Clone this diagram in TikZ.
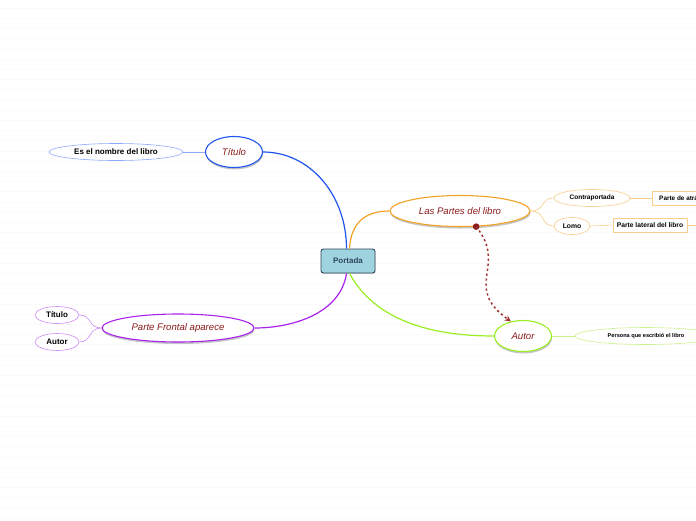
\documentclass[tikz,border=0pt]{standalone}
\usepackage{fontspec}
\setmainfont{Liberation Sans}
\usetikzlibrary{shapes.geometric, arrows.meta, shadows}
\definecolor{textred}{HTML}{8B1A1A}
\definecolor{rootfill}{HTML}{9FD3E0}
\definecolor{rootline}{HTML}{2F4858}
\definecolor{bluemain}{HTML}{2255EE}
\definecolor{bluelite}{HTML}{8FA8FF}
\definecolor{orangemain}{HTML}{F2A225}
\definecolor{orangelite}{HTML}{F9CD8C}
\definecolor{greenmain}{HTML}{99EE22}
\definecolor{greenlite}{HTML}{CFF28F}
\definecolor{purplemain}{HTML}{AA22EE}
\definecolor{purplelite}{HTML}{D08AF7}
\definecolor{ruled}{HTML}{FAFAFA}
\definecolor{relred}{HTML}{A03030}

\begin{document}
\begin{tikzpicture}[x=1pt, y=-1pt,
    root/.style={draw=rootline, fill=rootfill, rounded corners=2.5pt, line width=0.9pt,
                 minimum width=54pt, minimum height=24pt, inner sep=0pt,
                 font=\fontsize{8}{9}\selectfont\bfseries, text=rootline,
                 drop shadow={shadow xshift=0.5pt, shadow yshift=-1pt, opacity=0.25}},
    topic/.style={ellipse, draw, fill=white, line width=1.1pt, inner sep=0pt,
                  font=\fontsize{9.6}{11}\selectfont\itshape, text=textred,
                  drop shadow={shadow xshift=0.5pt, shadow yshift=-2pt, opacity=0.45}},
    leaf/.style={ellipse, draw, fill=white, line width=0.6pt, inner sep=0pt,
                 minimum height=17pt, font=\fontsize{8}{9}\selectfont\bfseries},
    note/.style={draw, fill=white, line width=0.8pt, inner sep=0pt, minimum height=14pt,
                 font=\fontsize{6.7}{8}\selectfont\bfseries},
    link/.style={line width=1.2pt},
    twig/.style={line width=0.6pt}]
    \clip (0,0) rectangle (696,520);
    \fill[white] (0,0) rectangle (696,520);
    \foreach \y in {8,18.2,...,520} \draw[ruled, line width=0.6pt] (0,\y) -- (696,\y);

    % central topic
    \node[root] (r) at (348,261) {Portada};

    % main topics
    \node[topic, draw=bluemain, minimum width=57pt, minimum height=31pt] (t) at (234,152) {Título};
    \node[topic, draw=orangemain, minimum width=140pt, minimum height=31pt] (p) at (460,211) {Las Partes del libro};
    \node[topic, draw=greenmain, minimum width=57pt, minimum height=31pt] (a) at (523,336) {Autor};
    \node[topic, draw=purplemain, minimum width=152pt, minimum height=28pt] (f) at (178,328) {Parte Frontal aparece};

    % subtopics
    \node[leaf, draw=bluelite, minimum width=134pt] (t1) at (116,152) {Es el nombre del libro};
    \node[leaf, draw=orangelite, minimum width=76pt, font=\fontsize{6.5}{8}\selectfont\bfseries] (p1) at (592,198) {Contraportada};
    \node[leaf, draw=orangelite, minimum width=36pt, font=\fontsize{6.8}{8}\selectfont\bfseries] (p2) at (572,226) {Lomo};
    \node[note, draw=orangelite, minimum width=74pt] (p3) at (650,225) {Parte lateral del libro};
    \node[note, draw=orangelite, minimum width=60pt, anchor=west, font=\fontsize{6.4}{8}\selectfont\bfseries] (p4) at (652,198) {\hspace*{2pt}Parte de atrás\hspace*{6pt}};
    \node[leaf, draw=greenlite, minimum width=142pt, font=\fontsize{5.6}{7}\selectfont\bfseries] (a1) at (646,336) {Persona que escribió el libro};
    \node[leaf, draw=purplelite, minimum width=44pt] (f1) at (57,315) {Título};
    \node[leaf, draw=purplelite, minimum width=44pt] (f2) at (57,342) {Autor};
    \coordinate (pe) at (700,225);

    % branches from the centre
    \draw[link, bluemain] ([xshift=-1.5pt]r.north) .. controls (346.5,195) and (310,152) .. (t.east);
    \draw[link, orangemain] ([xshift=1.5pt]r.north) .. controls (351,222) and (366,211) .. (p.west);
    \draw[link, purplemain] ([xshift=-1.5pt]r.south) .. controls (340,315) and (290,328) .. (f.east);
    \draw[link, greenmain] ([xshift=1.5pt]r.south) .. controls (375,320) and (430,336) .. (a.west);

    % twigs
    \draw[twig, bluelite] (t.west) -- (t1.east);
    \draw[twig, orangelite] (p.east) .. controls (546,211) and (540,198) .. (p1.west);
    \draw[twig, orangelite] (p.east) .. controls (546,211) and (540,226) .. (p2.west);
    \draw[twig, orangelite] (p1.east) -- (p4.west);
    \draw[twig, orangelite] (p2.east) -- (p3.west);
    \draw[twig, orangelite] (p3.east) -- (pe);
    \draw[twig, greenlite] (a.east) -- (a1.west);
    \draw[twig, purplelite] (f.west) .. controls (88,328) and (92,315) .. (f1.east);
    \draw[twig, purplelite] (f.west) .. controls (88,328) and (92,342) .. (f2.east);

    % relation
    \fill[textred] (p.316) circle (3.3pt);
    \draw[relred, line width=1.5pt, dash pattern=on 2.2pt off 2.8pt, -{Stealth[length=6pt, width=6pt]}]
        (p.316) .. controls (508,266) and (462,286) .. (a.130);
\end{tikzpicture}
\end{document}
